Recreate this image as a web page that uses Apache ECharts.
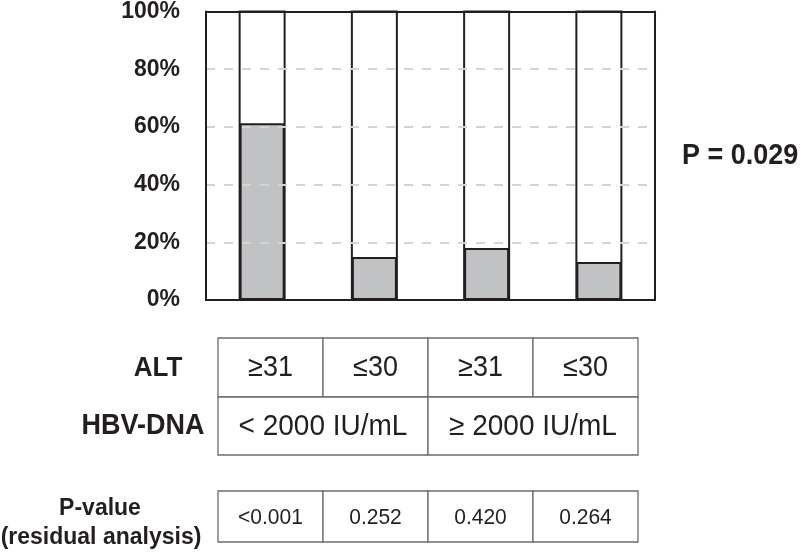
<!DOCTYPE html>
<html><head><meta charset="utf-8">
<script src="https://cdn.jsdelivr.net/npm/echarts@6/dist/echarts.min.js"></script>
<style>html,body{margin:0;padding:0;background:#fff}#c{width:800px;height:552px}</style>
</head><body><div id="c"></div>
<script>
const categories = ['ALT≥31, HBV-DNA<2000', 'ALT≤30, HBV-DNA<2000', 'ALT≥31, HBV-DNA≥2000', 'ALT≤30, HBV-DNA≥2000'];
const positiveShare = [61.3, 14.9, 18.0, 13.2];
const yTicks = [0, 20, 40, 60, 80, 100];
const overallP = 'P = 0.029';
const altLabels = ['≥31', '≤30', '≥31', '≤30'];
const hbvLabels = ['< 2000 IU/mL', '≥ 2000 IU/mL'];
const pValues = ['<0.001', '0.252', '0.420', '0.264'];

const FONT = 'Liberation Sans, Arial, Helvetica, sans-serif';
const INK = '#231f20';
const chart = echarts.init(document.getElementById('c'), null, {renderer: 'canvas'});

const T = {left: 218, colW: 105, rows: [
  {y: 338, h: 59, labels: altLabels, span: 1, size: 27},
  {y: 397, h: 58, labels: hbvLabels, span: 2, size: 28},
  {y: 491, h: 51, labels: pValues, span: 1, size: 21}
]};
const graphics = [];
T.rows.forEach(r => {
  r.labels.forEach((t, i) => {
    const x = T.left + i * r.span * T.colW;
    const w = r.span * T.colW;
    graphics.push({type: 'rect', shape: {x: x, y: r.y, width: w, height: r.h},
      style: {fill: '#fff', stroke: '#6d6d6d', lineWidth: 1.3}});
    graphics.push({type: 'text', x: x + w / 2, y: r.y + r.h / 2 + 1, scaleY: 1.06,
      style: {text: t, align: 'center', verticalAlign: 'middle', fontSize: r.size,
        fontFamily: FONT, fill: INK}});
  });
});
const rowTitles = [
  {text: 'ALT', x: 158, y: 368, size: 26},
  {text: 'HBV-DNA', x: 143, y: 426, size: 27},
  {text: 'P-value', x: 100, y: 508, size: 23},
  {text: '(residual analysis)', x: 101, y: 537, size: 23}
];
rowTitles.forEach(r => graphics.push({type: 'text', x: r.x, y: r.y, scaleY: 1.06,
  style: {text: r.text, align: 'center', verticalAlign: 'middle', fontSize: r.size,
    fontWeight: 'bold', fontFamily: FONT, fill: INK}}));
graphics.push({type: 'text', x: 682, y: 156, scaleY: 1.06,
  style: {text: overallP, align: 'left', verticalAlign: 'middle', fontSize: 27,
    fontWeight: 'bold', fontFamily: FONT, fill: INK}});

const frameLine = {show: true, onZero: false, lineStyle: {color: INK, width: 2}};
chart.setOption({
  animation: false,
  backgroundColor: '#fff',
  grid: {left: 206, right: 145, top: 10, bottom: 252},
  xAxis: [
    {type: 'category', data: categories, position: 'bottom', axisLine: frameLine,
      axisTick: {show: false}, axisLabel: {show: false}, splitLine: {show: false}, z: 5},
    {type: 'category', data: categories, position: 'top', axisLine: frameLine,
      axisTick: {show: false}, axisLabel: {show: false}, splitLine: {show: false}, z: 5}
  ],
  yAxis: [
    {type: 'value', min: yTicks[0], max: yTicks[yTicks.length - 1], interval: 20,
      position: 'left', axisLine: frameLine, axisTick: {show: false},
      axisLabel: {formatter: '{value}%', fontSize: 23, fontWeight: 'bold', fontFamily: FONT,
        color: INK, margin: 26},
      splitLine: {show: true, showMinLine: false, showMaxLine: false,
        lineStyle: {color: '#d4d4d4', width: 2, type: [9, 9]}}, z: 5},
    {type: 'value', min: yTicks[0], max: yTicks[yTicks.length - 1], interval: 20,
      position: 'right', axisLine: frameLine, axisTick: {show: false},
      axisLabel: {show: false}, splitLine: {show: false}, z: 5}
  ],
  series: [{
    type: 'bar', data: positiveShare, barWidth: 45,
    showBackground: true,
    backgroundStyle: {color: '#fff', borderColor: INK, borderWidth: 2},
    itemStyle: {color: '#c1c2c4', borderColor: INK, borderWidth: 2}
  }],
  graphic: graphics
});
</script></body></html>
